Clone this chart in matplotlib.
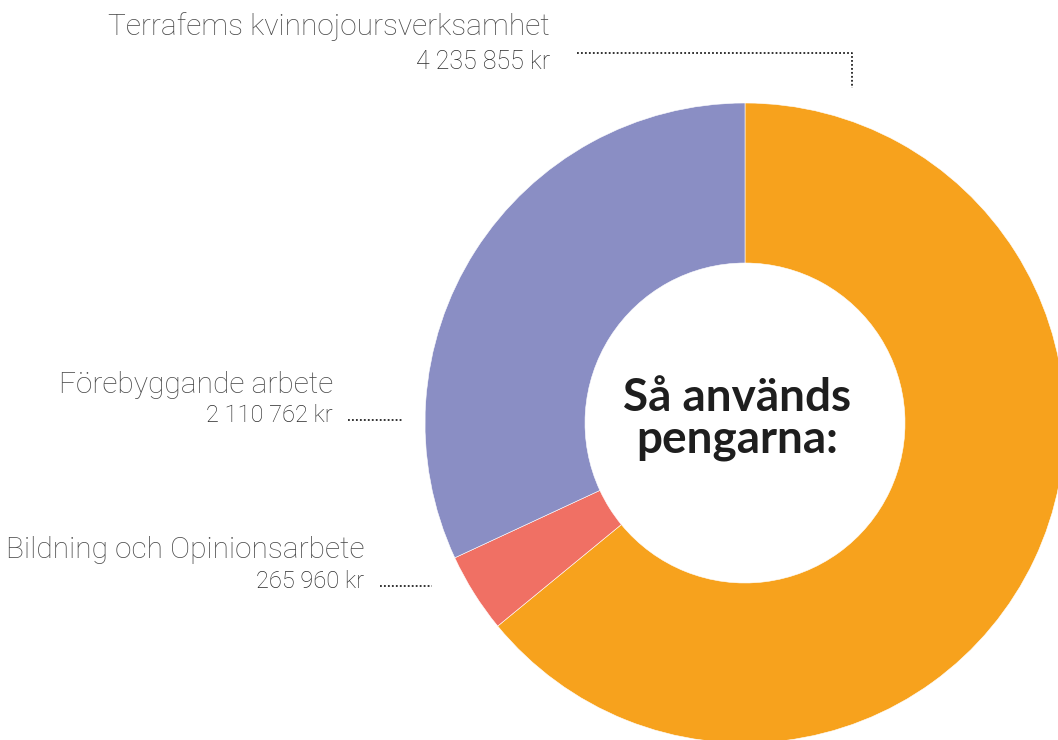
import matplotlib.pyplot as plt

categories = ['Terrafems kvinnojoursverksamhet', 'Bildning och Opinionsarbete', 'Förebyggande arbete']
values = [4235855, 265960, 2110762]
value_labels = ['4 235 855 kr', '265 960 kr', '2 110 762 kr']
colors = ['#F7A21D', '#F07064', '#8A8EC4']

W, H = 1058, 740
fig = plt.figure(figsize=(W / 100, H / 100), dpi=100)
ax = fig.add_axes([0, 0, 1, 1])

# donut, pixel based coords (y flipped)
cx, cy, r = 745, H - 423, 320
ax.pie(values, colors=colors, startangle=90, counterclock=False,
       center=(cx, cy), radius=r,
       wedgeprops=dict(width=r * 0.5, edgecolor='white', linewidth=0.4))
ax.set_xlim(0, W)
ax.set_ylim(0, H)
ax.set_aspect('equal')
ax.axis('off')

ax.text(cx - 8, cy + 4, 'Så används\npengarna:', ha='center', va='center',
        fontsize=33, fontweight='bold', family=['Lato', 'DejaVu Sans'],
        color='#1e1e1e', linespacing=1.0)

label_font = ['Roboto', 'DejaVu Sans']
# (name y, value y, right x, value size) for each label
places = {
    0: (H - 27, H - 62, 550, 18),
    2: (H - 385, H - 415, 333, 17),
    1: (H - 550, H - 582, 364, 17),
}
for i, (ny, vy, rx, vs) in places.items():
    ax.text(rx, ny, categories[i], ha='right', va='center', fontsize=21.5,
            fontweight='light', family=label_font, color='#4a4a4a')
    ax.text(rx, vy, value_labels[i], ha='right', va='center', fontsize=vs,
            fontweight='light', family=label_font, color='#2a2a2a')

dot = dict(color='#222222', linestyle=(0, (1, 1.2)), linewidth=1.3)
ax.plot([577, 852, 852], [H - 53, H - 53, H - 88], **dot)
ax.plot([348, 402], [H - 420, H - 420], **dot)
ax.plot([380, 432], [H - 586, H - 586], **dot)

fig.savefig('out.png', dpi=100)
